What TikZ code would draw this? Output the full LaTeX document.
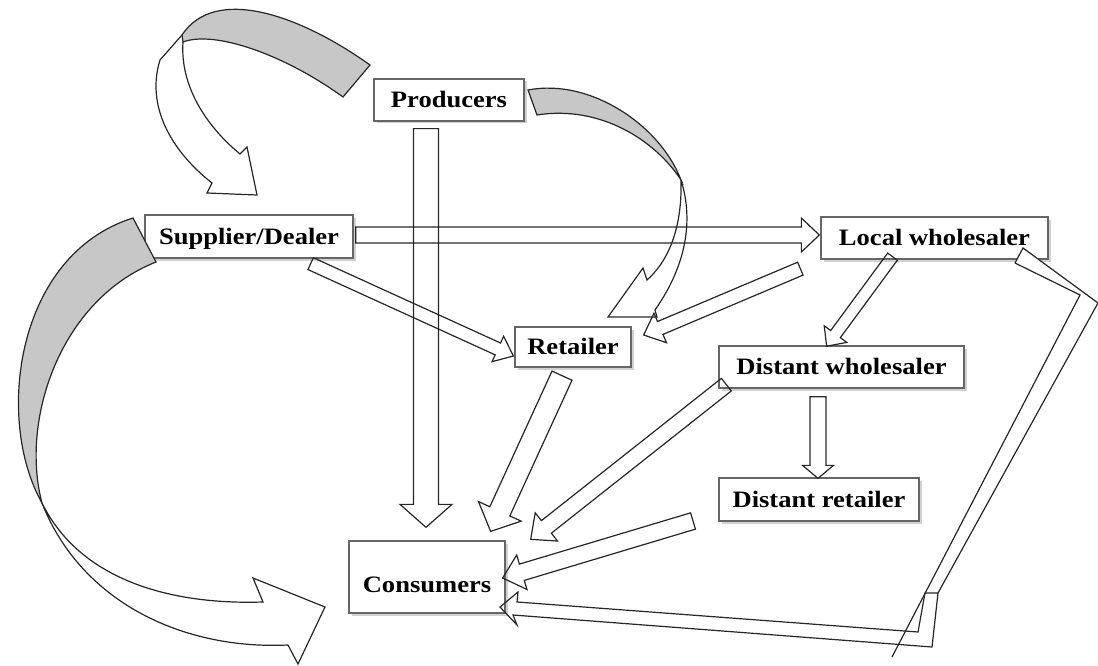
\documentclass[tikz,border=0pt]{standalone}
\usepackage{fontspec}
\setmainfont{Liberation Serif}[FakeStretch=1.13]
\usetikzlibrary{calc,shadows}
\tikzset{
  box/.style={draw=black!60, line width=1.3pt, fill=white, inner sep=0pt,
    font=\fontsize{23.5}{26}\selectfont\bfseries, text height=20.5pt, text depth=5pt,
    drop shadow={shadow xshift=2.5pt, shadow yshift=-2.5pt, fill=black!40, opacity=0.45}},
  barrow/.style={draw=black!85, line width=1.2pt, line join=miter},
  band/.style={draw=black!85, line width=1.2pt},
  greyband/.style={band, fill=black!22},
}
\newcommand\blockarr[6][]{%
  \draw[barrow,#1] let \p1=(#2), \p2=(#3),
    \n1={atan2(\y2-\y1,\x2-\x1)}, \n2={veclen(\x2-\x1,\y2-\y1)} in
    [shift={(\p1)}, rotate=\n1]
    (0pt,#4pt) -- (\n2-#6pt,#4pt) -- (\n2-#6pt,#5pt) -- (\n2,0pt)
    -- (\n2-#6pt,-#5pt) -- (\n2-#6pt,-#4pt) -- (0pt,-#4pt) -- cycle;}
\begin{document}
\begin{tikzpicture}[x=1pt,y=-1pt]
\useasboundingbox (0,0) rectangle (1098,666);

% nodes
\node[box, minimum width=150pt, minimum height=42pt] (prod) at (449,100) {Producers};
\node[box, minimum width=208pt, minimum height=43pt] (sup) at (249,236.5) {Supplier/Dealer};
\node[box, minimum width=227pt, minimum height=42pt] (loc) at (934.5,238) {Local wholesaler};
\node[box, minimum width=116pt, minimum height=40pt] (ret) at (573,347) {Retailer};
\node[box, minimum width=245pt, minimum height=42pt] (distw) at (841.5,367) {Distant wholesaler};
\node[box, minimum width=200pt, minimum height=43pt] (distr) at (819,499.5) {Distant retailer};
\node[box, minimum width=156pt, minimum height=72pt, text height=36.5pt] (cons) at (427,577) {Consumers};
\coordinate (free) at (693,521);

% curved arrow: producers side -> supplier
\draw[greyband] (370,65) .. controls (300,15) and (215,-15) .. (182,35) -- (183,42)
  .. controls (215,30) and (285,55) .. (343,97) -- cycle;
\draw[band] (182,35) -- (160,60) .. controls (146,105) and (170,150) .. (212,183)
  -- (207,193) -- (257,195) -- (247,147) -- (240,154)
  .. controls (205,125) and (180,85) .. (183,42);

% curved arrow: producers -> retailer
\draw[greyband] (528,90) .. controls (590,78) and (660,125) .. (681,180)
  .. controls (655,140) and (600,105) .. (537,115) -- cycle;
\draw[band] (681,180) .. controls (692,215) and (690,260) .. (655,310)
  -- (657,317) -- (608,317) -- (643,268) -- (647,280)
  .. controls (675,255) and (682,215) .. (681,180);

% curved arrow: supplier -> consumers
\draw[greyband] (133,218) .. controls (15,255) and (-5,420) .. (42,503)
  .. controls (20,420) and (60,300) .. (156,262) -- cycle;
\draw[band] (42,503) .. controls (80,580) and (170,605) .. (263,602)
  -- (253,578) -- (325,607) -- (298,664) -- (288,645)
  .. controls (180,650) and (80,600) .. (42,503);

% straight block arrows
\blockarr{$(prod.south)+(-23,7)$}{$(cons.north)+(-1,-13)$}{12.5}{26}{23}
\blockarr{$(sup.east)+(2,-1.5)$}{$(loc.west)+(-1,-3)$}{8}{17}{18}
\blockarr{$(sup.south east)+(-43,5)$}{$(ret.west)+(-1,9)$}{6.5}{14}{17}
\blockarr{$(loc.south west)+(-20,9)$}{$(ret.east)+(12,-12)$}{7}{16}{18}
\blockarr{$(loc.south)+(-42,-3)$}{$(distw.north)+(-15,1)$}{6}{14}{15}
\blockarr{$(distw.south)+(-23.5,8)$}{$(distr.north)+(-1,1)$}{8}{15.5}{13}
\blockarr{$(ret.south)+(-11,8)$}{$(cons.north east)+(-15,-9)$}{11}{23.5}{22}
\blockarr{$(distw.south west)+(8,-4)$}{$(cons.north east)+(25,-1)$}{8}{18}{20}
\blockarr{free}{$(cons.east)+(-3,1)$}{8.5}{18}{20}

% bent arrow: local wholesaler -> consumers
\fill[white] (1015,263) -- (1023,248) -- (1098,303) -- (1080,295) -- cycle;
\draw[barrow] (1015,263) -- (1080,295) -- (892,657);
\draw[barrow] (1015,263) -- (1023,248) -- (1098,303) -- (938,593) -- (925,593)
  -- (918,632) -- (517,602) -- (518,592) -- (500,607) -- (517,625) -- (513,615)
  -- (932,647) -- (938,593);
\end{tikzpicture}
\end{document}
